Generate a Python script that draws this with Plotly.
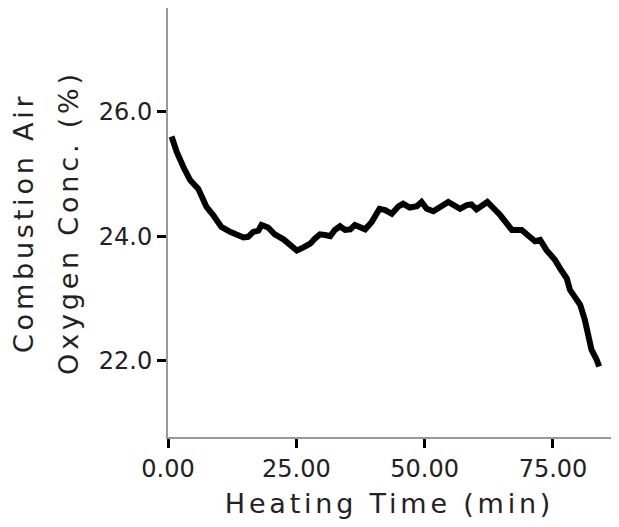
import plotly.graph_objects as go

# Heating time (min)
time_min = [0.7, 1.7, 3.0, 4.3, 5.9, 7.5, 8.8, 10.4, 12.1, 13.7, 14.7, 15.6, 16.6, 17.6,
            18.2, 19.5, 20.8, 22.5, 23.8, 25.1, 26.4, 27.7, 28.6, 29.6, 30.6, 31.6,
            32.5, 33.5, 34.5, 35.5, 36.4, 37.4, 38.4, 39.7, 41.2, 42.3, 43.6, 44.9,
            45.8, 47.1, 48.5, 49.4, 50.4, 51.7, 53.0, 54.6, 56.9, 58.2, 59.1, 60.1,
            62.2, 64.7, 67.0, 68.9, 71.5, 72.5, 73.7, 75.4, 76.4, 77.7, 78.3, 80.3,
            81.2, 81.9, 82.5, 83.5, 84.0]
# Combustion air oxygen concentration (%)
oxygen_pct = [25.60, 25.35, 25.11, 24.90, 24.76, 24.47, 24.34, 24.15, 24.07, 24.02, 23.98,
              23.99, 24.07, 24.09, 24.18, 24.14, 24.03, 23.95, 23.87, 23.77, 23.82, 23.88,
              23.96, 24.03, 24.02, 24.00, 24.10, 24.16, 24.10, 24.11, 24.18, 24.15, 24.11,
              24.23, 24.44, 24.42, 24.36, 24.48, 24.52, 24.46, 24.48, 24.55, 24.44, 24.40,
              24.48, 24.55, 24.44, 24.50, 24.51, 24.43, 24.55, 24.34, 24.10, 24.10, 23.92,
              23.94, 23.78, 23.62, 23.48, 23.32, 23.14, 22.90, 22.66, 22.39, 22.18, 22.02,
              21.91]

x_ticks = [0, 25, 50, 75]
x_tick_labels = ["0.00", "25.00", "50.00", "75.00"]
y_ticks = [22, 24, 26]
y_tick_labels = ["22.0", "24.0", "26.0"]
x_title = "Heating Time (min)"
y_title_lines = ["Combustion Air", "Oxygen Conc. (%)"]

fig = go.Figure()
fig.add_trace(go.Scatter(x=time_min, y=oxygen_pct, mode="lines",
                         line=dict(color="black", width=6), showlegend=False))

font_family = "DejaVu Sans"
title_font = dict(size=27, family=font_family, color="#222")
fig.update_layout(
    width=603, height=511,
    margin=dict(l=160, r=0, t=0, b=82),
    plot_bgcolor="white", paper_bgcolor="white",
    font=dict(family=font_family, color="#222"),
)
fig.update_xaxes(
    range=[0, 86.3], tickvals=x_ticks, ticktext=x_tick_labels,
    showgrid=False, zeroline=False, automargin=False,
    showline=True, linecolor="#999", linewidth=2, mirror=True,
    ticks="outside", ticklen=9, tickwidth=3, tickcolor="black",
    tickfont=dict(size=24, family=font_family, color="#222"),
    title=dict(text=x_title, font=title_font, standoff=17),
)
fig.update_yaxes(
    range=[20.78, 27.66], tickvals=y_ticks, ticktext=y_tick_labels,
    showgrid=False, zeroline=False, automargin=False,
    showline=True, linecolor="#999", linewidth=2, mirror=False,
    ticks="outside", ticklen=9, tickwidth=3, tickcolor="black",
    tickfont=dict(size=24, family=font_family, color="#222"),
)
for line_text, shift in zip(y_title_lines, [-145, -100]):
    fig.add_annotation(text=line_text, xref="paper", yref="paper", x=0, y=0.5,
                       xanchor="center", yanchor="middle", xshift=shift,
                       textangle=-90, showarrow=False, font=title_font)

post = """
var gd = document.getElementsByClassName('plotly-graph-div')[0];
function spacing(){
  gd.querySelectorAll('.g-xtitle text, .annotation-text').forEach(function(t){
    t.style.letterSpacing = '3.8px';
  });
}
spacing();
gd.on('plotly_afterplot', spacing);
"""
fig.write_html("out.html", post_script=post)
